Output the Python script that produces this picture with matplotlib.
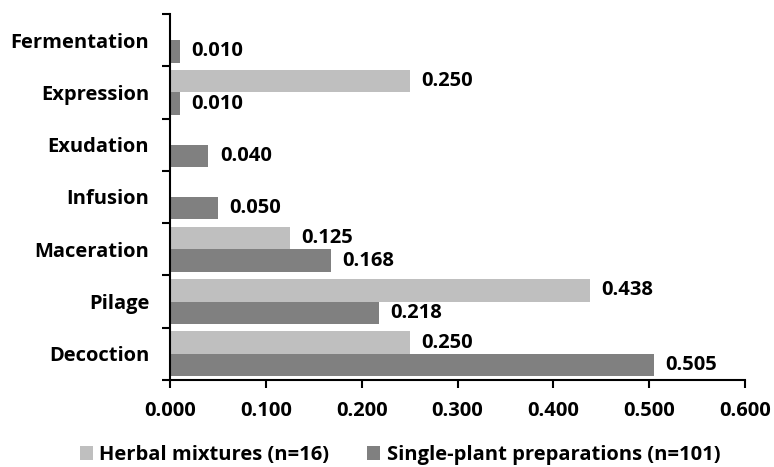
import matplotlib
matplotlib.use("Agg")
import matplotlib.pyplot as plt
import numpy as np

categories = ["Decoction", "Pilage", "Maceration", "Infusion", "Exudation", "Expression", "Fermentation"]
herbal = [0.250, 0.438, 0.125, 0.0, 0.0, 0.250, 0.0]
single = [0.505, 0.218, 0.168, 0.050, 0.040, 0.010, 0.010]
series_names = ["Herbal mixtures (n=16)", "Single-plant preparations (n=101)"]
xticks = [0.0, 0.1, 0.2, 0.3, 0.4, 0.5, 0.6]

plt.rcParams['font.family'] = ['Open Sans', 'DejaVu Sans']
plt.rcParams['font.weight'] = 'bold'

FS = 14.5

fig = plt.figure(figsize=(7.74, 4.67), dpi=100)
ax = fig.add_axes([170/774, 1-380/467, 575/774, 366/467])

y = np.arange(len(categories))
h = 0.43
c_h = "#BFBFBF"
c_s = "#808080"
b1 = ax.barh(y + h/2, herbal, height=h, color=c_h, label=series_names[0])
b2 = ax.barh(y - h/2, single, height=h, color=c_s, label=series_names[1])

for bars, vals in ((b1, herbal), (b2, single)):
    for rect, v in zip(bars, vals):
        if v > 0:
            ax.text(v + 0.012, rect.get_y() + rect.get_height()/2, f"{v:.3f}",
                    va="center", ha="left", fontsize=FS, fontweight="bold")

ax.set_xlim(0, 0.6)
ax.set_ylim(-0.5, len(categories) - 0.5)
ax.set_xticks(xticks)
ax.set_xticklabels([f"{t:.3f}" for t in xticks], fontsize=FS, fontweight="bold")
ax.set_yticks(y)
ax.set_yticklabels(categories, fontsize=FS, fontweight="bold")
ax.set_yticks(np.arange(-0.5, len(categories)), minor=True)
ax.tick_params(axis="y", which="major", length=0, pad=15)
ax.tick_params(axis="y", which="minor", length=6, width=1.5, direction="out")
ax.tick_params(axis="x", which="major", length=6, width=1.5, direction="out", pad=9)
for s in ("top", "right"):
    ax.spines[s].set_visible(False)
for s in ("left", "bottom"):
    ax.spines[s].set_linewidth(1.5)

fig.legend(handles=[b1, b2], labels=series_names, loc="center", bbox_to_anchor=(400/774, 1-455/467),
           ncol=2, frameon=False, prop={"size": FS, "weight": "bold"},
           handlelength=0.65, handleheight=0.65, handletextpad=0.3, columnspacing=1.9,
           borderpad=0.1)

fig.savefig("out.png", dpi=100)
